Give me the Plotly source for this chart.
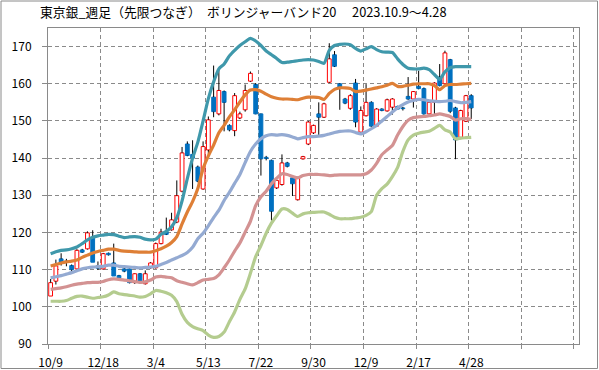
import plotly.graph_objects as go

# ---------------- data ----------------
tick_labels = ["10/9", "12/18", "3/4", "5/13", "7/22", "9/30", "12/9", "2/17", "4/28"]
n_slots = 101  # category slots on the axis (data fills the first 81)

open_ = [102.9, 106.9, 112.9, 112.3, 111.1, 110.2, 115.3, 115.6, 118.7, 111.0,
         110.2, 114.4, 111.8, 108.4, 110.2, 110.2, 106.5, 108.9, 106.2, 110.5,
         110.5, 117.0, 120.1, 120.7, 122.8, 131.1, 143.8, 141.0, 137.6, 131.7,
         142.2, 156.4, 151.9, 157.9, 148.8, 147.4, 150.8, 153.0, 160.7, 159.8,
         151.9, 140.2, 139.4, 132.0, 132.9, 138.7, 134.7, 128.8, 139.8, 143.8,
         146.8, 151.9, 151.0, 160.4, 167.8, 160.0, 155.9, 153.4, 160.2, 147.0,
         151.4, 155.0, 148.6, 153.2, 152.7, 153.7, 153.9, 153.5, 156.6, 155.9,
         159.3, 158.7, 151.9, 155.0, 161.8, 160.0, 166.5, 153.5, 145.6, 149.9,
         156.8]
high = [107.5, 112.7, 114.4, 112.9, 111.4, 115.5, 115.6, 120.3, 120.6, 112.2,
        114.5, 114.6, 117.0, 108.6, 110.5, 110.4, 109.0, 109.1, 109.8, 112.0,
        117.3, 121.0, 124.0, 125.3, 134.0, 143.0, 144.5, 144.8, 138.0, 144.5,
        151.2, 164.9, 164.0, 158.2, 149.1, 157.5, 152.5, 159.8, 163.3, 160.2,
        152.0, 140.6, 139.6, 134.3, 141.0, 139.0, 135.0, 135.0, 140.6, 150.0,
        149.0, 155.0, 154.9, 170.9, 168.8, 160.2, 156.2, 157.2, 161.3, 153.9,
        159.9, 155.3, 153.4, 153.4, 156.0, 156.1, 154.1, 153.8, 161.8, 158.0,
        163.5, 159.0, 155.2, 160.4, 165.3, 168.9, 166.7, 153.8, 153.0, 157.0,
        157.2]
low = [102.9, 106.0, 111.1, 110.9, 109.4, 110.0, 114.5, 115.4, 112.0, 109.9,
       110.0, 113.8, 108.3, 107.6, 109.3, 106.3, 106.2, 106.3, 106.0, 110.2,
       110.3, 116.8, 119.3, 120.5, 122.5, 130.8, 140.5, 131.7, 133.5, 131.5,
       141.0, 151.0, 151.5, 147.2, 147.2, 145.9, 150.5, 152.5, 160.5, 151.8,
       135.3, 139.4, 123.2, 131.7, 132.6, 137.5, 129.8, 128.6, 139.6, 143.5,
       146.5, 146.1, 150.8, 160.2, 164.5, 153.0, 154.5, 153.0, 148.3, 146.8,
       151.2, 148.4, 148.4, 152.6, 152.5, 151.7, 153.0, 152.8, 155.7, 153.6,
       158.5, 151.7, 151.7, 151.9, 159.3, 159.8, 152.1, 139.7, 145.1, 149.7,
       150.5]
close = [106.5, 111.0, 111.8, 112.0, 110.0, 115.2, 114.7, 119.9, 112.0, 110.4,
         114.3, 114.0, 108.3, 107.8, 109.6, 106.5, 108.9, 106.5, 108.9, 111.8,
         117.0, 120.1, 119.5, 123.4, 129.9, 141.4, 140.7, 140.0, 133.8, 143.1,
         150.3, 152.5, 158.2, 155.0, 147.6, 156.8, 151.9, 158.2, 162.8, 151.9,
         139.8, 139.9, 125.7, 134.0, 138.7, 137.8, 133.1, 134.7, 140.4, 149.7,
         148.8, 151.0, 154.6, 166.7, 164.7, 159.1, 154.8, 156.8, 149.7, 152.8,
         155.0, 148.6, 153.2, 152.8, 155.7, 155.9, 153.2, 153.3, 155.9, 157.9,
         158.7, 151.9, 155.0, 160.2, 159.5, 168.3, 152.6, 144.9, 152.8, 156.8,
         153.5]

upper2 = [114.3, 114.8, 115.2, 115.3, 115.6, 116.1, 117.0, 118.0, 118.7, 119.1,
          119.3, 119.5, 119.4, 119.0, 118.6, 118.8, 118.9, 118.7, 118.2, 118.0,
          118.2, 119.5, 120.3, 121.5, 124.0, 128.5, 134.5, 140.0, 144.3, 150.0,
          156.0, 160.5, 164.0, 165.3, 167.5, 169.0, 170.3, 171.3, 172.2, 171.5,
          170.3, 168.8, 167.8, 166.8, 165.7, 165.8, 166.0, 166.2, 166.4, 166.5,
          166.4, 166.0, 165.5, 169.0, 170.3, 170.6, 170.7, 170.5, 169.5, 168.8,
          169.4, 170.0, 169.2, 168.6, 168.5, 168.4, 166.7, 165.2, 164.2, 164.0,
          164.0, 164.2, 163.8, 162.5, 161.2, 163.2, 164.3, 164.6, 164.6, 164.6,
          164.6]
upper1 = [111.0, 111.4, 111.8, 112.1, 112.3, 112.6, 113.3, 113.9, 114.5, 114.9,
          115.2, 115.5, 115.5, 115.2, 115.0, 114.9, 114.8, 114.7, 114.7, 114.7,
          115.1, 115.6, 116.3, 117.3, 118.9, 122.3, 125.5, 128.3, 131.8, 137.2,
          140.6, 143.5, 146.8, 148.8, 151.1, 153.0, 155.1, 157.0, 158.3, 158.4,
          158.0, 157.2, 156.5, 156.1, 155.9, 155.9, 155.8, 155.7, 156.1, 156.4,
          156.4, 156.3, 155.8, 157.4, 158.5, 158.9, 158.9, 158.7, 157.9, 158.0,
          158.3, 158.6, 158.9, 159.2, 159.6, 160.1, 159.3, 159.3, 159.6, 159.9,
          160.0, 160.0, 160.0, 159.5, 158.4, 159.5, 159.8, 159.8, 159.9, 160.0,
          160.1]
middle = [107.8, 108.1, 108.4, 108.8, 109.2, 109.7, 110.2, 110.5, 110.7, 110.8,
          110.9, 111.2, 111.2, 110.9, 110.8, 110.7, 110.6, 110.5, 110.6, 110.7,
          110.9, 111.4, 111.9, 112.6, 113.2, 113.8, 114.6, 116.0, 118.3, 119.8,
          121.8, 124.0, 126.0, 128.6, 130.8, 133.2, 135.6, 138.8, 141.8, 143.8,
          145.2, 146.0, 146.3, 146.2, 146.3, 146.1, 145.7, 145.2, 145.5, 145.8,
          145.8, 145.9, 146.1, 146.5, 146.9, 147.2, 147.3, 147.3, 146.9, 146.5,
          147.1, 147.9, 148.8, 150.0, 151.2, 152.4, 153.5, 154.4, 155.1, 155.5,
          155.8, 155.7, 155.4, 155.3, 155.2, 155.3, 155.5, 155.2, 154.9, 155.0,
          155.2]
lower1 = [104.7, 104.9, 105.1, 105.4, 105.8, 106.1, 106.3, 106.5, 106.6, 106.6,
          106.8, 107.3, 107.5, 107.4, 107.2, 107.0, 106.8, 106.6, 106.7, 107.2,
          108.0, 108.2, 108.0, 107.8, 107.0, 106.6, 106.2, 105.9, 106.5, 107.2,
          107.4, 107.6, 108.6, 110.5, 112.6, 115.0, 117.2, 120.1, 123.0, 127.2,
          129.6, 131.1, 133.1, 134.6, 135.8, 135.6, 135.1, 134.7, 135.3, 135.6,
          135.6, 135.6, 135.5, 135.3, 135.4, 135.5, 135.5, 135.5, 135.5, 135.5,
          135.8, 136.8, 138.6, 140.9, 142.2, 143.4, 146.2, 148.5, 150.2, 150.9,
          151.1, 151.2, 151.4, 151.6, 151.9, 151.6, 151.2, 150.2, 150.6, 150.6,
          150.4]
lower2 = [101.5, 101.5, 101.5, 101.7, 102.3, 102.8, 102.9, 102.6, 102.3, 102.5,
          102.7, 103.2, 104.0, 103.5, 103.3, 103.1, 102.9, 102.6, 102.8, 103.5,
          104.4, 104.2, 103.8, 103.1, 101.4, 98.0, 95.8, 94.7, 94.1, 93.6,
          92.4, 91.8, 92.0, 93.2, 96.0, 98.6, 102.0, 104.8, 109.0, 113.5,
          116.5, 119.8, 122.5, 124.5, 126.3, 126.2, 125.2, 124.3, 125.0, 125.3,
          125.4, 125.5, 125.5, 124.9, 124.1, 123.7, 123.7, 123.7, 123.9, 124.1,
          124.6, 125.6, 130.0, 131.8, 133.0, 135.0, 137.5, 141.8, 144.9, 146.2,
          146.7, 147.0, 147.2, 148.0, 148.8, 147.6, 147.0, 145.2, 145.4, 145.5,
          145.6]

title_text = "東京銀_週足（先限つなぎ）\u3000ボリンジャーバンド20\u3000 2023.10.9～4.28"

# ---------------- derived structures ----------------
idx = list(range(len(close)))
up_x, up_base, up_h = [], [], []
dn_x, dn_base, dn_h = [], [], []
for i, o, c in zip(idx, open_, close):
    if c >= o:
        up_x.append(i); up_base.append(o); up_h.append(c - o)
    else:
        dn_x.append(i); dn_base.append(c); dn_h.append(o - c)

wick_x, wick_y = [], []
for i, o, h, l, c in zip(idx, open_, high, low, close):
    top, bot = max(o, c), min(o, c)
    wick_x += [i, i, None, i, i, None]
    wick_y += [top, h, None, bot, l, None]

FONT = "Noto Sans CJK JP"
GRID = "#8a8a8a"

fig = go.Figure()
fig.add_trace(go.Bar(x=up_x, y=up_h, base=up_base, width=0.72,
                     marker=dict(color="white", line=dict(color="#FF0000", width=1)),
                     hoverinfo="skip"))
fig.add_trace(go.Bar(x=dn_x, y=dn_h, base=dn_base, width=0.72,
                     marker=dict(color="#0070C0", line=dict(color="#0070C0", width=1)),
                     hoverinfo="skip"))
fig.add_trace(go.Scatter(x=wick_x, y=wick_y, mode="lines",
                         line=dict(color="black", width=1), hoverinfo="skip"))

bands = [(upper2, "#3F98AB"), (upper1, "#DE7F36"), (middle, "#94AAD2"),
         (lower1, "#D39292"), (lower2, "#B4CC8F")]
for vals, col in bands:
    fig.add_trace(go.Scatter(x=idx, y=vals, mode="lines",
                             line=dict(color=col, width=3.2, shape="spline", smoothing=0.6),
                             hoverinfo="skip"))

tick_pos = [10 * k for k in range(len(tick_labels))]
grid_pos = [10 * k - 0.5 for k in range(n_slots // 10 + 1)]

L, R, T, B = 48, 20, 28, 26
W, H = 599, 370
pw, ph = W - L - R, H - T - B

fig.update_layout(
    width=W, height=H,
    margin=dict(l=L, r=R, t=T, b=B, pad=0, autoexpand=False),
    paper_bgcolor="white", plot_bgcolor="white",
    showlegend=False, barmode="overlay", bargap=0,
    font=dict(family=FONT, size=12, color="black"),
    title=dict(text=title_text, x=40 / W, xref="container", xanchor="left",
               y=1 - 13 / H, yref="container", yanchor="middle", automargin=False,
               font=dict(family=FONT, size=12.8, color="black")),
    xaxis=dict(range=[-0.5, n_slots - 0.5], tickmode="array", tickvals=tick_pos,
               ticktext=tick_labels, showgrid=False, zeroline=False, automargin=False,
               showline=True, linecolor=GRID, linewidth=1, mirror=True,
               ticks="", ticklabelstandoff=8,
               tickfont=dict(family=FONT, size=12, color="black")),
    xaxis2=dict(range=[-0.5, n_slots - 0.5], overlaying="x", anchor="y", side="bottom",
                tickmode="array", tickvals=grid_pos, showticklabels=False, automargin=False,
                showgrid=True, gridcolor=GRID, griddash="4px,3px", gridwidth=1,
                ticks="outside", ticklen=4, tickcolor=GRID, zeroline=False, showline=False),
    yaxis=dict(range=[90, 175], tickmode="array", tickvals=list(range(90, 171, 10)),
               showgrid=True, gridcolor=GRID, griddash="4px,3px", gridwidth=1, automargin=False,
               zeroline=False, showline=True, linecolor=GRID, linewidth=1, mirror=True,
               ticks="outside", ticklen=5, tickcolor=GRID, ticklabelstandoff=8,
               tickfont=dict(family=FONT, size=12, color="black")),
)
# invisible trace so the grid axis (xaxis2) is rendered
fig.add_trace(go.Scatter(x=[None], y=[None], xaxis="x2", yaxis="y", showlegend=False,
                         hoverinfo="skip"))

# outer chart border
fig.add_shape(type="rect", xref="paper", yref="paper",
              x0=(1 - L) / pw, x1=(W - 1.5 - L) / pw,
              y0=-(B - 1.5) / ph, y1=1 + (T - 1) / ph,
              line=dict(color=GRID, width=1), fillcolor="rgba(0,0,0,0)", layer="below")

fig.write_html("out.html", config={"displayModeBar": False, "staticPlot": True},
               post_script="document.body.style.margin='0';document.body.style.overflow='hidden';")
